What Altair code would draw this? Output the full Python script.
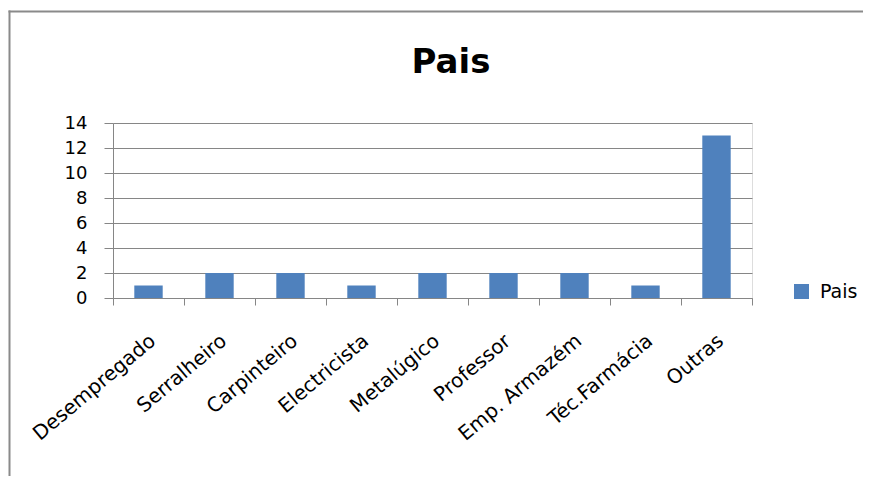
import altair as alt
import pandas as pd

categories = ["Desempregado", "Serralheiro", "Carpinteiro", "Electricista", "Metalúgico",
              "Professor", "Emp. Armazém", "Téc.Farmácia", "Outras"]
values = [1, 2, 2, 1, 2, 2, 2, 1, 13]
series_name = "Pais"
chart_title = "Pais"
y_ticks = [0, 2, 4, 6, 8, 10, 12, 14]

df = pd.DataFrame({"cat": categories, "val": values, "serie": [series_name] * len(categories)})

GRAY = "#868686"
FONT = "DejaVu Sans"

bars = alt.Chart(df).mark_bar(width=alt.RelativeBandSize(0.4), color="#4F81BD").encode(
    x=alt.X("cat:N", sort=None, title=None,
            scale=alt.Scale(paddingInner=0, paddingOuter=0),
            axis=alt.Axis(labelAngle=-40, labelAlign="right", labelBaseline="middle",
                          labelFontSize=20, labelFont=FONT, labelColor="black",
                          labelPadding=33, labelOffset=4, tickBand="extent", tickSize=7,
                          tickColor=GRAY, domainColor=GRAY, labelLimit=300)),
    y=alt.Y("val:Q", title=None,
            scale=alt.Scale(domain=[0, 14], nice=False),
            axis=alt.Axis(values=y_ticks, labelFontSize=18, labelFont=FONT, labelColor="black",
                          tickSize=9, tickColor=GRAY, domainColor=GRAY, gridColor=GRAY,
                          labelPadding=17, grid=True)),
    color=alt.Color("serie:N", scale=alt.Scale(range=["#4F81BD"]),
                    legend=alt.Legend(title=None, orient="none", legendX=679, legendY=159,
                                      symbolType="square", symbolSize=225, symbolStrokeWidth=0,
                                      labelFontSize=19, labelFont=FONT, labelColor="black",
                                      labelOffset=9, padding=0)),
)

title_df = pd.DataFrame({"t": [chart_title]})
title = alt.Chart(title_df).mark_text(font=FONT, fontSize=34, fontWeight="bold", color="black",
                                      align="center", baseline="alphabetic").encode(
    text="t:N", x=alt.value(338), y=alt.value(-50)
)

frame_df = pd.DataFrame({"a": [0]})
frame_top = alt.Chart(frame_df).mark_rule(color="#8a8a8a", strokeWidth=2).encode(
    x=alt.value(-104.5), x2=alt.value(750), y=alt.value(-111.5)
)
frame_left = alt.Chart(frame_df).mark_rule(color="#8a8a8a", strokeWidth=2).encode(
    x=alt.value(-103.5), y=alt.value(-112.5), y2=alt.value(353)
)

chart = alt.layer(frame_top, frame_left, bars, title).properties(
    width=639, height=175,
    autosize=alt.AutoSizeParams(type="none"),
    padding={"left": 105, "top": 115, "right": 111, "bottom": 178},
).configure_view(stroke=None).configure(background="white")

chart.save("out.html", embed_options={"renderer": "svg", "actions": False})
